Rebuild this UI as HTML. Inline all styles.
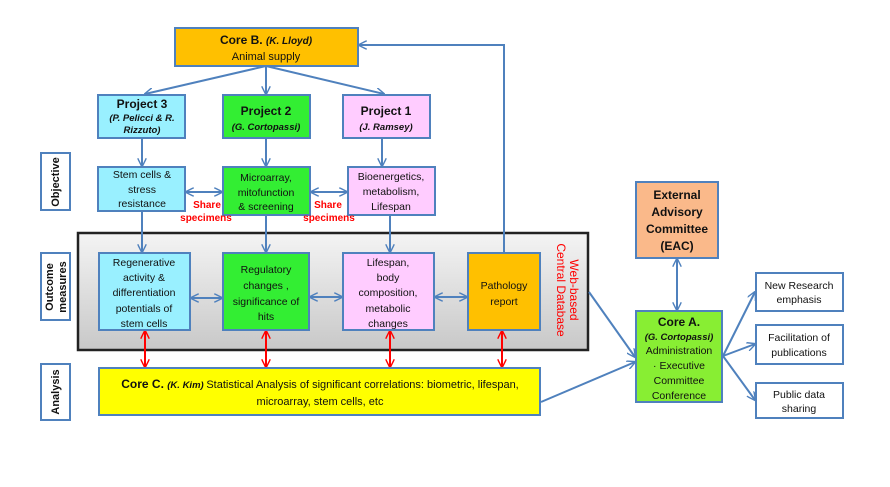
<!DOCTYPE html>
<html><head><meta charset="utf-8"><style>
body{margin:0;background:#fff}
svg{display:block;font-family:"Liberation Sans",sans-serif}
</style></head><body>
<svg width="890" height="487" viewBox="0 0 890 487" xmlns="http://www.w3.org/2000/svg">
<defs>
<marker id="a" viewBox="0 0 10 10" refX="9" refY="5" markerWidth="9" markerHeight="9" orient="auto-start-reverse" markerUnits="userSpaceOnUse"><path d="M0,0 L10,5 L0,10" fill="none" stroke="#4f81bd" stroke-width="1.6"/></marker>
<marker id="r" viewBox="0 0 10 10" refX="9" refY="5" markerWidth="9" markerHeight="9" orient="auto-start-reverse" markerUnits="userSpaceOnUse"><path d="M0,0 L10,5 L0,10" fill="none" stroke="#ff0000" stroke-width="1.6"/></marker>
<linearGradient id="g" x1="0" y1="0" x2="0" y2="1"><stop offset="0" stop-color="#f4f4f4"/><stop offset="1" stop-color="#c8c8c8"/></linearGradient>
</defs>
<g stroke="#4f81bd" stroke-width="2" fill="none">
<rect x="78" y="233" width="510" height="117" fill="url(#g)" stroke="#222" stroke-width="2.5"/>
<line x1="266" y1="66" x2="145" y2="94" marker-end="url(#a)"/>
<line x1="266" y1="66" x2="266" y2="94" marker-end="url(#a)"/>
<line x1="266" y1="66" x2="384" y2="94" marker-end="url(#a)"/>
<line x1="142" y1="138" x2="142" y2="166" marker-end="url(#a)"/>
<line x1="266" y1="138" x2="266" y2="166" marker-end="url(#a)"/>
<line x1="382" y1="138" x2="382" y2="166" marker-end="url(#a)"/>
<line x1="142" y1="211" x2="142" y2="252" marker-end="url(#a)"/>
<line x1="266" y1="215" x2="266" y2="252" marker-end="url(#a)"/>
<line x1="390" y1="215" x2="390" y2="252" marker-end="url(#a)"/>
<polyline points="504,253 504,45 359,45" marker-end="url(#a)"/>
<line x1="186" y1="192" x2="222" y2="192" marker-start="url(#a)" marker-end="url(#a)"/>
<line x1="311" y1="192" x2="347" y2="192" marker-start="url(#a)" marker-end="url(#a)"/>
<line x1="191" y1="298" x2="222" y2="298" marker-start="url(#a)" marker-end="url(#a)"/>
<line x1="310" y1="297" x2="342" y2="297" marker-start="url(#a)" marker-end="url(#a)"/>
<line x1="435" y1="297" x2="467" y2="297" marker-start="url(#a)" marker-end="url(#a)"/>
<line x1="589" y1="292" x2="635" y2="357" marker-end="url(#a)"/>
<line x1="541" y1="402" x2="635" y2="362" marker-end="url(#a)"/>
<line x1="677" y1="259" x2="677" y2="310" marker-start="url(#a)" marker-end="url(#a)"/>
<line x1="723" y1="356" x2="755" y2="292" marker-end="url(#a)"/>
<line x1="723" y1="356" x2="755" y2="344" marker-end="url(#a)"/>
<line x1="723" y1="356" x2="755" y2="400" marker-end="url(#a)"/>
</g>
<g stroke="#ff0000" stroke-width="2">
<line x1="145" y1="331" x2="145" y2="367" marker-start="url(#r)" marker-end="url(#r)"/>
<line x1="266" y1="331" x2="266" y2="367" marker-start="url(#r)" marker-end="url(#r)"/>
<line x1="390" y1="331" x2="390" y2="367" marker-start="url(#r)" marker-end="url(#r)"/>
<line x1="502" y1="331" x2="502" y2="367" marker-start="url(#r)" marker-end="url(#r)"/>
</g>
<g stroke="#4f81bd" stroke-width="2">
<rect x="175" y="28" width="183" height="38" fill="#ffc000"/>
<rect x="98" y="95" width="87" height="43" fill="#99f0ff"/>
<rect x="223" y="95" width="87" height="43" fill="#33ee33"/>
<rect x="343" y="95" width="87" height="43" fill="#ffccff"/>
<rect x="98" y="167" width="87" height="44" fill="#99f0ff"/>
<rect x="223" y="167" width="87" height="48" fill="#33ee33"/>
<rect x="348" y="167" width="87" height="48" fill="#ffccff"/>
<rect x="41" y="153" width="29" height="57" fill="#fff"/>
<rect x="41" y="253" width="29" height="67" fill="#fff"/>
<rect x="41" y="364" width="29" height="56" fill="#fff"/>
<rect x="99" y="253" width="91" height="77" fill="#99f0ff"/>
<rect x="223" y="253" width="86" height="77" fill="#33ee33"/>
<rect x="343" y="253" width="91" height="77" fill="#ffccff"/>
<rect x="468" y="253" width="72" height="77" fill="#ffc000"/>
<rect x="99" y="368" width="441" height="47" fill="#ffff00"/>
<rect x="636" y="182" width="82" height="76" fill="#fab98a"/>
<rect x="636" y="311" width="86" height="91" fill="#88ee33"/>
<rect x="756" y="273" width="87" height="38" fill="#fff"/>
<rect x="756" y="325" width="87" height="39" fill="#fff"/>
<rect x="756" y="383" width="87" height="35" fill="#fff"/>
</g>
<g font-size="10.5" fill="#111" text-anchor="middle">
<text x="266" y="44"><tspan font-weight="bold" font-size="12">Core B. </tspan><tspan font-weight="bold" font-style="italic" font-size="10">(K. Lloyd)</tspan></text>
<text x="266" y="60" font-size="11">Animal supply</text>
<text x="142" y="108" font-weight="bold" font-size="12">Project 3</text>
<text x="142" y="121" font-weight="bold" font-style="italic" font-size="9.5">(P. Pelicci &amp; R.</text>
<text x="142" y="133" font-weight="bold" font-style="italic" font-size="9.5">Rizzuto)</text>
<text x="266" y="115" font-weight="bold" font-size="12">Project 2</text>
<text x="266" y="130" font-weight="bold" font-style="italic" font-size="9.5">(G. Cortopassi)</text>
<text x="386" y="115" font-weight="bold" font-size="12">Project 1</text>
<text x="386" y="130" font-weight="bold" font-style="italic" font-size="9.5">(J. Ramsey)</text>
<text x="142" y="178">Stem cells &amp;</text>
<text x="142" y="193">stress</text>
<text x="142" y="207">resistance</text>
<text x="266" y="181">Microarray,</text>
<text x="266" y="196">mitofunction</text>
<text x="266" y="210">&amp; screening</text>
<text x="391" y="180">Bioenergetics,</text>
<text x="391" y="195">metabolism,</text>
<text x="391" y="210">Lifespan</text>
<text x="144" y="266">Regenerative</text>
<text x="144" y="281">activity &amp;</text>
<text x="144" y="296">differentiation</text>
<text x="144" y="312">potentials of</text>
<text x="144" y="327">stem cells</text>
<text x="266" y="273">Regulatory</text>
<text x="266" y="289">changes ,</text>
<text x="266" y="305">significance of</text>
<text x="266" y="320">hits</text>
<text x="388" y="266">Lifespan,</text>
<text x="388" y="281">body</text>
<text x="388" y="296">composition,</text>
<text x="388" y="312">metabolic</text>
<text x="388" y="327">changes</text>
<text x="504" y="289">Pathology</text>
<text x="504" y="305">report</text>
<text x="320" y="388" font-size="11"><tspan font-size="12" font-weight="bold">Core C. </tspan><tspan font-style="italic" font-weight="bold" font-size="9.5">(K. Kim) </tspan>Statistical Analysis of significant correlations:  biometric, lifespan,</text>
<text x="320" y="405" font-size="11">microarray, stem cells, etc</text>
<g font-weight="bold" font-size="12">
<text x="677" y="199">External</text>
<text x="677" y="216">Advisory</text>
<text x="677" y="233">Committee</text>
<text x="677" y="250">(EAC)</text>
<text x="679" y="326">Core A.</text>
</g>
<text x="679" y="340" font-weight="bold" font-style="italic" font-size="9.5">(G. Cortopassi)</text>
<text x="679" y="354">Administration</text>
<text x="679" y="369">· Executive</text>
<text x="679" y="384">Committee</text>
<text x="679" y="399">Conference</text>
<text x="799" y="289">New Research</text>
<text x="799" y="303">emphasis</text>
<text x="799" y="341">Facilitation of</text>
<text x="799" y="356">publications</text>
<text x="799" y="398">Public data</text>
<text x="799" y="412">sharing</text>
<g font-weight="bold" font-size="11">
<text transform="translate(59,182) rotate(-90)">Objective</text>
<text transform="translate(53,287) rotate(-90)">Outcome</text>
<text transform="translate(66,287) rotate(-90)">measures</text>
<text transform="translate(59,392) rotate(-90)">Analysis</text>
</g>
<g fill="#ff0000" font-weight="bold" font-size="10">
<text x="207" y="208">Share</text>
<text x="206" y="221">specimens</text>
<text x="328" y="208">Share</text>
<text x="329" y="221">specimens</text>
</g>
<g fill="#ff0000" font-size="12">
<text transform="translate(570,290) rotate(90)">Web-based</text>
<text transform="translate(557,290) rotate(90)">Central Database</text>
</g>
</g>
</svg>
</body></html>
